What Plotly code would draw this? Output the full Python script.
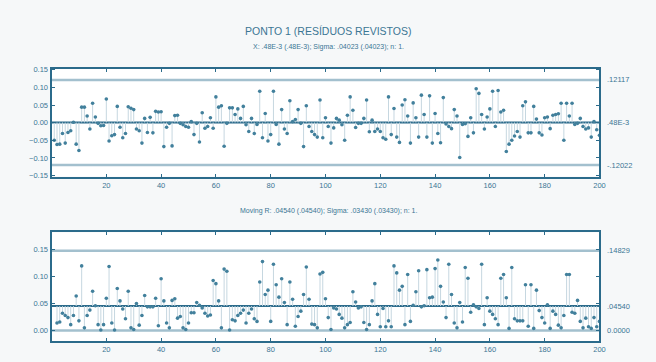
import plotly.graph_objects as go

# Individual residuals (X chart), samples 1..200
x_values = [
    -0.050, -0.062, -0.061, -0.031, -0.058, -0.028, -0.023, 0.001, -0.061, -0.079,
    0.044, 0.044, 0.019, -0.018, 0.055, 0.016, -0.002, -0.009, -0.008, 0.067,
    -0.052, -0.037, -0.034, 0.046, -0.013, -0.043, -0.031, 0.045, 0.041, 0.037,
    -0.018, -0.023, -0.058, 0.012, -0.028, 0.015, -0.029, 0.032, 0.030, 0.031,
    -0.068, -0.013, -0.002, -0.066, 0.020, 0.021, -0.002, -0.006, -0.011, -0.013,
    0.003, -0.034, -0.002, -0.055, 0.028, -0.016, -0.011, 0.014, -0.016, 0.073,
    0.044, 0.048, -0.067, -0.002, 0.042, 0.042, 0.023, 0.039, 0.012, 0.046,
    -0.006, -0.025, 0.012, -0.031, -0.005, 0.089, -0.043, 0.026, -0.052, -0.034,
    0.089, -0.005, -0.061, 0.037, -0.018, -0.031, 0.062, 0.003, 0.009, 0.037,
    -0.002, -0.068, 0.048, -0.011, -0.025, -0.034, -0.041, 0.064, -0.043, 0.014,
    -0.011, -0.058, -0.015, 0.012, 0.007, -0.006, -0.050, 0.021, 0.073, 0.035,
    -0.014, -0.002, -0.002, 0.012, 0.064, -0.026, 0.007, -0.025, -0.018, -0.025,
    -0.043, -0.047, 0.073, -0.034, 0.040, -0.041, -0.056, 0.050, 0.065, 0.019,
    -0.058, 0.056, 0.014, -0.041, 0.078, 0.023, -0.041, 0.076, -0.058, 0.026,
    -0.031, -0.057, 0.071, -0.004, -0.011, -0.017, 0.037, 0.019, -0.099, -0.005,
    -0.003, -0.039, 0.014, -0.029, 0.096, 0.083, 0.023, -0.018, 0.016, 0.039,
    0.089, -0.011, 0.091, 0.030, 0.035, -0.082, -0.061, -0.050, -0.038, -0.025,
    -0.041, 0.048, 0.059, -0.029, -0.029, 0.046, 0.010, -0.029, -0.035, 0.014,
    0.016, -0.017, 0.021, 0.023, 0.025, 0.055, -0.050, 0.055, 0.019, 0.055,
    -0.005, -0.002, 0.012, -0.011, -0.018, -0.015, -0.041, 0.003, -0.020, -0.036,
]

# Moving ranges, samples 2..200
mr_values = [
    0.014, 0.016, 0.032, 0.028, 0.024, 0.011, 0.028, 0.064, 0.018, 0.120,
    0.005, 0.028, 0.038, 0.073, 0.046, 0.011, 0.001, 0.011, 0.060, 0.119,
    0.014, 0.001, 0.078, 0.055, 0.040, 0.022, 0.073, 0.005, 0.002, 0.050,
    0.010, 0.028, 0.065, 0.044, 0.044, 0.044, 0.060, 0.009, 0.096, 0.055,
    0.014, 0.005, 0.056, 0.059, 0.023, 0.026, 0.005, 0.002, 0.014, 0.033,
    0.033, 0.052, 0.047, 0.042, 0.032, 0.027, 0.029, 0.093, 0.087, 0.055,
    0.005, 0.114, 0.110, 0.001, 0.020, 0.018, 0.028, 0.032, 0.038, 0.014,
    0.032, 0.040, 0.022, 0.017, 0.090, 0.128, 0.067, 0.075, 0.017, 0.123,
    0.085, 0.062, 0.096, 0.052, 0.011, 0.090, 0.058, 0.008, 0.026, 0.036,
    0.067, 0.118, 0.058, 0.012, 0.011, 0.005, 0.105, 0.108, 0.059,
    0.024, 0.002, 0.042, 0.040, 0.030, 0.023, 0.005, 0.011, 0.015, 0.072,
    0.053, 0.042, 0.044, 0.015, 0.002, 0.011, 0.055, 0.087, 0.030, 0.007,
    0.041, 0.007, 0.018, 0.007, 0.120, 0.107, 0.075, 0.082, 0.011, 0.104,
    0.017, 0.047, 0.072, 0.111, 0.044, 0.046, 0.113, 0.061, 0.062, 0.115,
    0.131, 0.082, 0.053, 0.024, 0.123, 0.067, 0.014, 0.005, 0.052, 0.016,
    0.117, 0.097, 0.034, 0.048, 0.044, 0.041, 0.123, 0.011, 0.061, 0.036,
    0.030, 0.022, 0.011, 0.097, 0.104, 0.061, 0.004, 0.117, 0.022, 0.018,
    0.018, 0.018, 0.085, 0.008, 0.085, 0.004, 0.075, 0.037, 0.024, 0.014,
    0.048, 0.004, 0.036, 0.030, 0.010, 0.005, 0.028, 0.104, 0.104, 0.034,
    0.032, 0.056, 0.017, 0.005, 0.023, 0.007, 0.004, 0.024, 0.007, 0.017,
]

x_samples = list(range(1, len(x_values) + 1))
mr_samples = list(range(2, len(mr_values) + 2))

# Control limits
x_center, x_ucl, x_lcl = 0.00048, 0.12117, -0.12022
mr_center, mr_ucl, mr_lcl = 0.04540, 0.14829, 0.0
x_limit_labels = [".12117", ".48E-3", "-.12022"]
mr_limit_labels = [".14829", ".04540", "0.0000"]

x_ticks = [20, 40, 60, 80, 100, 120, 140, 160, 180, 200]
x_yticks = [-0.15, -0.10, -0.05, 0.00, 0.05, 0.10, 0.15]
mr_yticks = [0.00, 0.05, 0.10, 0.15]

DARK = "#2b6b8b"
TEXT = "#3b7694"
LIMIT = "#a3c0ce"
NEEDLE = "#c6d7e0"
MARK = "#42809c"
FONT = "Liberation Sans, Arial, sans-serif"

fig = go.Figure()


def add_panel(xs, ys, center, xref, yref):
    nx, ny = [], []
    for xi, yi in zip(xs, ys):
        nx += [xi, xi, None]
        ny += [center, yi, None]
    fig.add_trace(go.Scatter(x=nx, y=ny, mode="lines", xaxis=xref, yaxis=yref,
                             line=dict(color=NEEDLE, width=1), hoverinfo="skip",
                             showlegend=False))
    fig.add_trace(go.Scatter(x=xs, y=ys, mode="markers", xaxis=xref, yaxis=yref,
                             marker=dict(color=MARK, size=3.6, line=dict(width=0)),
                             showlegend=False))


add_panel(x_samples, x_values, x_center, "x", "y")
add_panel(mr_samples, mr_values, mr_center, "x2", "y2")

shapes = []
for (yref, xref, ucl, cen, lcl) in [("y", "x", x_ucl, x_center, x_lcl),
                                     ("y2", "x2", mr_ucl, mr_center, mr_lcl)]:
    for val, col, w in [(ucl, LIMIT, 2.5), (lcl, LIMIT, 2.5), (cen, DARK, 2)]:
        shapes.append(dict(type="line", xref=f"{xref} domain", yref=yref,
                           x0=0, x1=1, y0=val, y1=val, line=dict(color=col, width=w),
                           layer="below"))

annotations = []
for val, lab in zip([x_ucl, x_center, x_lcl], x_limit_labels):
    annotations.append(dict(xref="paper", yref="y", x=0.931, y=val, text=lab,
                            showarrow=False, xanchor="left", yanchor="middle",
                            font=dict(size=7.5, color=TEXT, family=FONT)))
for val, lab in zip([mr_ucl, mr_center, mr_lcl], mr_limit_labels):
    annotations.append(dict(xref="paper", yref="y2", x=0.931, y=val, text=lab,
                            showarrow=False, xanchor="left", yanchor="middle",
                            font=dict(size=7.5, color=TEXT, family=FONT)))

annotations += [
    dict(xref="paper", yref="paper", x=0.505, y=1 - 29 / 362,
         text="PONTO 1 (RESÍDUOS REVISTOS)", showarrow=False,
         xanchor="center", yanchor="middle",
         font=dict(size=10.5, color=TEXT, family=FONT)),
    dict(xref="paper", yref="paper", x=0.505, y=1 - 45 / 362,
         text="X: .48E-3 (.48E-3); Sigma: .04023 (.04023); n: 1.", showarrow=False,
         xanchor="center", yanchor="middle",
         font=dict(size=7, color=TEXT, family=FONT)),
    dict(xref="paper", yref="paper", x=0.505, y=1 - 212 / 362,
         text="Moving R: .04540 (.04540); Sigma: .03430 (.03430); n: 1.", showarrow=False,
         xanchor="center", yanchor="middle",
         font=dict(size=7, color=TEXT, family=FONT)),
]

xdom = [52 / 656, 605 / 656]
axis_common = dict(showline=True, linecolor=DARK, linewidth=2, mirror="ticks",
                   ticks="inside", ticklen=3, tickcolor=DARK, tickwidth=1,
                   showgrid=False, zeroline=False,
                   tickfont=dict(size=7.5, color=TEXT, family=FONT))

fig.update_layout(
    width=656, height=362,
    margin=dict(l=0, r=0, t=0, b=0),
    paper_bgcolor="#f6f8f9", plot_bgcolor="#ffffff",
    showlegend=False,
    shapes=shapes, annotations=annotations,
    xaxis=dict(domain=xdom, anchor="y", range=[0, 200], tickvals=x_ticks, **axis_common),
    yaxis=dict(domain=[1 - 177 / 362, 1 - 67 / 362], anchor="x", range=[-0.153, 0.153],
               tickvals=x_yticks, tickformat=".2f", **axis_common),
    xaxis2=dict(domain=xdom, anchor="y2", range=[0, 200], tickvals=x_ticks, **axis_common),
    yaxis2=dict(domain=[1 - 345 / 362, 1 - 234 / 362], anchor="x2", range=[-0.02, 0.182],
                tickvals=mr_yticks, tickformat=".2f", **axis_common),
)

fig.write_html("out.html")
